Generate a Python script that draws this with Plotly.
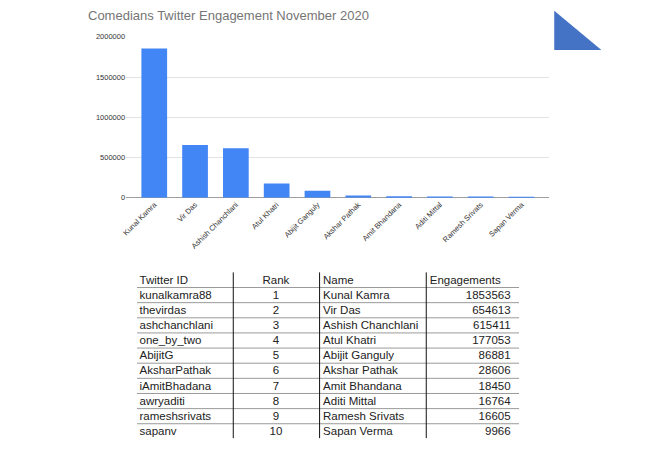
import plotly.graph_objects as go

# ---- data ----
names = ["Kunal Kamra", "Vir Das", "Ashish Chanchlani", "Atul Khatri", "Abijit Ganguly",
         "Akshar Pathak", "Amit Bhandana", "Aditi Mittal", "Ramesh Srivats", "Sapan Verma"]
engagements = [1853563, 654613, 615411, 177053, 86881, 28606, 18450, 16764, 16605, 9966]
twitter_ids = ["kunalkamra88", "thevirdas", "ashchanchlani", "one_by_two", "AbijitG",
               "AksharPathak", "iAmitBhadana", "awryaditi", "rameshsrivats", "sapanv"]
ranks = [1, 2, 3, 4, 5, 6, 7, 8, 9, 10]
headers = ["Twitter ID", "Rank", "Name", "Engagements"]
y_ticks = [0, 500000, 1000000, 1500000, 2000000]
title_text = "Comedians Twitter Engagement November 2020"

# page has an 8px body margin; the figure fills the rest of the window
OFF = 8
W, H = 650 - OFF, 450 - OFF
FONT = "Liberation Sans, Arial, sans-serif"
TXT = "#222222"
TICK = "#333333"

def fx(page_x):
    return (page_x - OFF) / W

def fy(page_y):
    return (H - (page_y - OFF)) / H

fig = go.Figure()

# ---- bar chart ----
fig.add_trace(go.Bar(x=names, y=engagements, marker=dict(color="#4285F4", line=dict(width=0)),
                     xaxis="x", yaxis="y", hoverinfo="skip"))

# ---- table (x2 in page pixels, y2 in row units) ----
row_pos = list(range(1, len(twitter_ids) + 1))
col_x = {"id": 135.5, "rank": 273, "name": 320.5, "eng": 509.5, "eng_head": 428}
tfont = dict(family=FONT, size=11.5, color=TXT)

def text_trace(xs, ys, texts, pos):
    return go.Scatter(x=xs, y=ys, text=texts, mode="text", textposition=pos,
                      textfont=tfont, xaxis="x2", yaxis="y2", hoverinfo="skip")

# headers
fig.add_trace(text_trace([col_x["id"]], [0], [headers[0]], "middle right"))
fig.add_trace(text_trace([col_x["rank"]], [0], [headers[1]], "middle center"))
fig.add_trace(text_trace([col_x["name"]], [0], [headers[2]], "middle right"))
fig.add_trace(text_trace([col_x["eng_head"]], [0], [headers[3]], "middle right"))
# rows
fig.add_trace(text_trace([col_x["id"]] * len(row_pos), row_pos, twitter_ids, "middle right"))
fig.add_trace(text_trace([col_x["rank"]] * len(row_pos), row_pos, [str(r) for r in ranks], "middle center"))
fig.add_trace(text_trace([col_x["name"]] * len(row_pos), row_pos, names, "middle right"))
fig.add_trace(text_trace([col_x["eng"]] * len(row_pos), row_pos, [str(v) for v in engagements], "middle left"))

shapes = []
for i in range(len(twitter_ids)):
    shapes.append(dict(type="line", xref="x2", yref="y2", x0=133, x1=518, y0=i + 0.45, y1=i + 0.45,
                       line=dict(color="#9a9a9a", width=1)))
for vx in [230, 317, 424.5]:
    shapes.append(dict(type="line", xref="x2", yref="y2", x0=vx, x1=vx, y0=-0.55, y1=len(twitter_ids) + 0.4,
                       line=dict(color="#111111", width=1)))
# decorative triangle
shapes.append(dict(type="path", xref="x2", yref="paper",
                   path="M 553.5,%f L 553.5,%f L 601,%f Z" % (fy(6.7), fy(46.7), fy(46.7)),
                   fillcolor="#4472C4", line=dict(width=0)))

row0_px, row_step = 282.3, 15.45

fig.update_layout(
    width=W, height=H,
    margin=dict(l=0, r=0, t=0, b=0),
    paper_bgcolor="white", plot_bgcolor="rgba(0,0,0,0)",
    showlegend=False,
    bargap=0.37,
    title=dict(text=title_text, x=fx(88), xanchor="left", y=fy(15), yanchor="middle",
               font=dict(family=FONT, size=13, color="#757575")),
    xaxis=dict(domain=[fx(122), fx(548)], anchor="y", type="category", range=[-0.69, 9.67],
               tickangle=-45, tickfont=dict(family=FONT, size=7.5, color=TICK),
               showgrid=False, ticks="", showline=False, zeroline=False),
    yaxis=dict(domain=[fy(197.7), fy(33.3)], anchor="x", range=[0, 2000000],
               tickvals=y_ticks, tickformat="d", tickfont=dict(family=FONT, size=7.5, color=TICK),
               showgrid=True, gridcolor="#e3e3e3", gridwidth=1, zeroline=True, zerolinecolor="#9e9e9e",
               zerolinewidth=1, ticks="", showline=False),
    xaxis2=dict(domain=[0, 1], anchor="y2", range=[OFF, OFF + W], visible=False),
    yaxis2=dict(domain=[0, 1], anchor="x2",
                range=[(OFF + H - row0_px) / row_step, (OFF - row0_px) / row_step],
                visible=False),
    shapes=shapes,
)

fig.write_html("out.html")
